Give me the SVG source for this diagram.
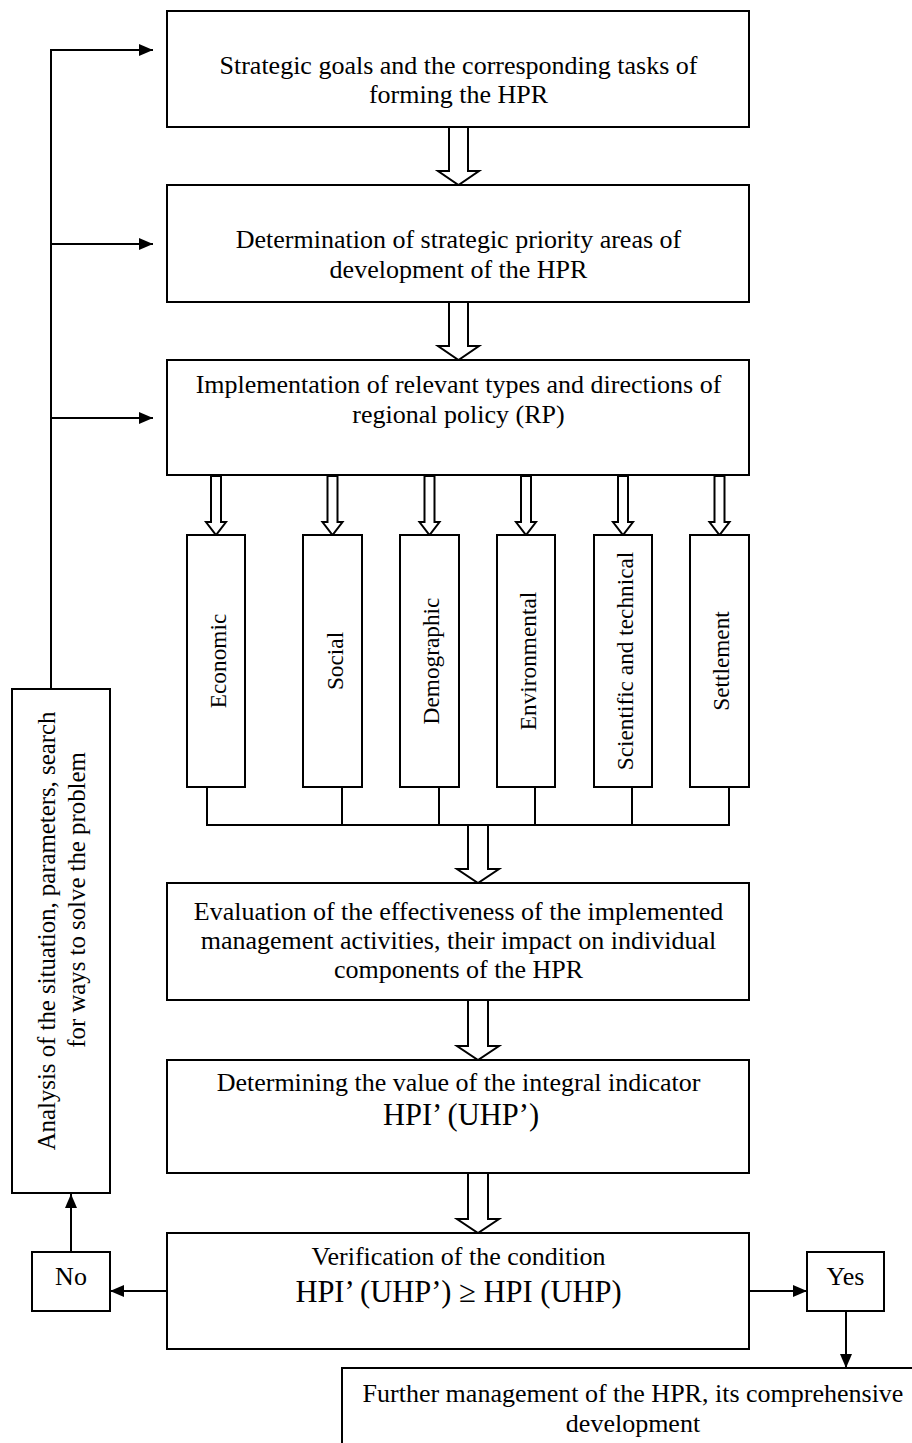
<svg xmlns="http://www.w3.org/2000/svg" width="912" height="1443" viewBox="0 0 912 1443">
<style>
.box{fill:#fff;stroke:#000;stroke-width:2}
.t{font-family:"Liberation Serif","Times New Roman",serif;font-size:26px;fill:#000;text-anchor:middle}
.a{font-size:24.8px}
.v{font-family:"Liberation Serif","Times New Roman",serif;font-size:23.3px;fill:#000;text-anchor:middle}
.big{font-size:30.5px}
.ha{fill:#fff;stroke:#000;stroke-width:2;stroke-linejoin:miter}
.ln{fill:none;stroke:#000;stroke-width:2}
</style>
<defs>
<marker id="ah" markerUnits="userSpaceOnUse" markerWidth="14" markerHeight="12" refX="14" refY="6" orient="auto">
<path d="M0,0 L14,6 L0,12 z" fill="#000"/>
</marker>
</defs>
<rect width="912" height="1443" fill="#fff"/>

<g id="connectors">
<polyline class="ln" points="51,689 51,50 153,50" marker-end="url(#ah)"/>
<line class="ln" x1="51" y1="244" x2="153" y2="244" marker-end="url(#ah)"/>
<line class="ln" x1="51" y1="418" x2="153" y2="418" marker-end="url(#ah)"/>
<polygon class="ha" points="449,127 468,127 468,171 479,171 458.5,185 438,171 449,171"/>
<polygon class="ha" points="449,302 468,302 468,346 479,346 458.5,360 438,346 449,346"/>
<polygon class="ha" points="211,476 221,476 221,522 226,522 216,535 206,522 211,522"/>
<polygon class="ha" points="327.5,476 337.5,476 337.5,522 342.5,522 332.5,535 322.5,522 327.5,522"/>
<polygon class="ha" points="424.5,476 434.5,476 434.5,522 439.5,522 429.5,535 419.5,522 424.5,522"/>
<polygon class="ha" points="521,476 531,476 531,522 536,522 526,535 516,522 521,522"/>
<polygon class="ha" points="618,476 628,476 628,522 633,522 623,535 613,522 618,522"/>
<polygon class="ha" points="714.5,476 724.5,476 724.5,522 729.5,522 719.5,535 709.5,522 714.5,522"/>
<polyline class="ln" points="207,787 207,825 729,825 729,787"/>
<line class="ln" x1="342" y1="787" x2="342" y2="825"/>
<line class="ln" x1="439" y1="787" x2="439" y2="825"/>
<line class="ln" x1="535" y1="787" x2="535" y2="825"/>
<line class="ln" x1="632" y1="787" x2="632" y2="825"/>
<polygon class="ha" points="468,825 488,825 488,869 499,869 478,883 457,869 468,869"/>
<polygon class="ha" points="468,1000 488,1000 488,1046 499,1046 478,1060 457,1046 468,1046"/>
<polygon class="ha" points="468,1173 488,1173 488,1219 499,1219 478,1233 457,1219 468,1219"/>
<line class="ln" x1="167" y1="1291" x2="110" y2="1291" marker-end="url(#ah)"/>
<line class="ln" x1="71" y1="1252" x2="71" y2="1194" marker-end="url(#ah)"/>
<line class="ln" x1="749" y1="1291" x2="807" y2="1291" marker-end="url(#ah)"/>
<line class="ln" x1="846" y1="1311" x2="846" y2="1368" marker-end="url(#ah)"/>
</g>

<g id="n1"><rect class="box" x="167" y="11" width="582" height="116"/>
<text class="t" x="458.5" y="74">Strategic goals and the corresponding tasks of</text>
<text class="t" x="458.5" y="103">forming the HPR</text></g>

<g id="n2"><rect class="box" x="167" y="185" width="582" height="117"/>
<text class="t" x="458.5" y="248">Determination of strategic priority areas of</text>
<text class="t" x="458.5" y="278">development of the HPR</text></g>

<g id="n3"><rect class="box" x="167" y="360" width="582" height="115"/>
<text class="t" x="458.5" y="393">Implementation of relevant types and directions of</text>
<text class="t" x="458.5" y="423">regional policy (RP)</text></g>

<g id="v1"><rect class="box" x="187" y="535" width="58" height="252"/>
<text class="v" transform="translate(226,661) rotate(-90)">Economic</text></g>
<g id="v2"><rect class="box" x="303" y="535" width="59" height="252"/>
<text class="v" transform="translate(342.5,661) rotate(-90)">Social</text></g>
<g id="v3"><rect class="box" x="400" y="535" width="59" height="252"/>
<text class="v" transform="translate(438.5,661) rotate(-90)">Demographic</text></g>
<g id="v4"><rect class="box" x="497" y="535" width="58" height="252"/>
<text class="v" transform="translate(535.5,661) rotate(-90)">Environmental</text></g>
<g id="v5"><rect class="box" x="594" y="535" width="58" height="252"/>
<text class="v" transform="translate(632.5,661) rotate(-90)">Scientific and technical</text></g>
<g id="v6"><rect class="box" x="690" y="535" width="59" height="252"/>
<text class="v" transform="translate(729,661) rotate(-90)">Settlement</text></g>

<g id="n4"><rect class="box" x="167" y="883" width="582" height="117"/>
<text class="t" x="458.5" y="920">Evaluation of the effectiveness of the implemented</text>
<text class="t" x="458.5" y="949">management activities, their impact on individual</text>
<text class="t" x="458.5" y="978">components of the HPR</text></g>

<g id="n5"><rect class="box" x="167" y="1060" width="582" height="113"/>
<text class="t" x="458.5" y="1091">Determining the value of the integral indicator</text>
<text class="t big" x="461" y="1125">HPI’ (UHP’)</text></g>

<g id="n6"><rect class="box" x="167" y="1233" width="582" height="116"/>
<text class="t" x="458.5" y="1265">Verification of the condition</text>
<text class="t big" x="458.5" y="1302">HPI’ (UHP’) ≥ HPI (UHP)</text></g>

<g id="no"><rect class="box" x="32" y="1252" width="78" height="59"/>
<text class="t" x="71" y="1285">No</text></g>

<g id="yes"><rect class="box" x="807" y="1252" width="77" height="59"/>
<text class="t" x="845.5" y="1285">Yes</text></g>

<g id="analysis"><rect class="box" x="12" y="689" width="98" height="504"/>
<text class="t a" transform="translate(55,931) rotate(-90)">Analysis of the situation, parameters, search</text>
<text class="t a" transform="translate(85,900) rotate(-90)">for ways to solve the problem</text></g>

<g id="further"><rect class="box" x="342" y="1368" width="590" height="100"/>
<text class="t" x="633" y="1402">Further management of the HPR, its comprehensive</text>
<text class="t" x="633" y="1432">development</text></g>
</svg>
